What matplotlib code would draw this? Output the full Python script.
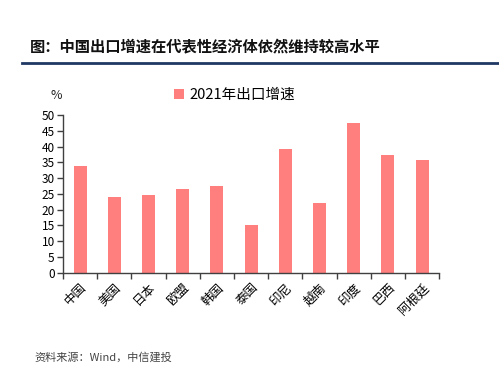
import matplotlib
matplotlib.use("Agg")
import matplotlib.pyplot as plt
from matplotlib.lines import Line2D

plt.rcParams['font.family'] = ['Noto Sans CJK SC', 'DejaVu Sans']

categories = ["中国", "美国", "日本", "欧盟", "韩国", "泰国", "印尼", "越南", "印度", "巴西", "阿根廷"]
values = [33.8, 24.0, 24.5, 26.4, 27.6, 15.2, 39.2, 22.0, 47.5, 37.3, 35.6]
series_name = "2021年出口增速"
yticks = list(range(0, 51, 5))

bar_color = "#FF7F7F"
axis_color = "#404040"

fig = plt.figure(figsize=(4.99, 3.78), dpi=100)
ax = fig.add_axes([0.1263, 0.2786, 0.7537, 0.4172])

x = list(range(len(categories)))
bars = ax.bar(x, values, width=0.38, color=bar_color, label=series_name, zorder=2)

ax.set_xlim(-0.5, len(categories) - 0.5)
ax.set_ylim(0, 50)
ax.set_yticks(yticks)
ax.set_yticklabels([str(t) for t in yticks], fontsize=8.5)

ax.set_xticks([i - 0.5 for i in range(len(categories) + 1)])
ax.set_xticklabels([])
ax.set_xticks(x, minor=True)
ax.set_xticklabels(categories, minor=True, rotation=45, ha='right', va='top',
                   rotation_mode='anchor', fontsize=9)
ax.tick_params(axis='x', which='minor', length=0, pad=6)
ax.tick_params(axis='x', which='major', length=4, direction='out', color=axis_color, width=1)
ax.tick_params(axis='y', length=4, direction='out', color=axis_color, width=1, pad=2)

for s in ['top', 'right']:
    ax.spines[s].set_visible(False)
for s in ['left', 'bottom']:
    ax.spines[s].set_color(axis_color)
    ax.spines[s].set_linewidth(1)

# legend
leg = ax.legend(handles=[bars], loc='center left', bbox_to_anchor=(0.322, 0.748),
                bbox_transform=fig.transFigure, frameon=False, fontsize=10.5,
                handlelength=0.7, handleheight=0.7, handletextpad=0.35)

# percent label
fig.text(0.112, 0.748, "%", fontsize=9, ha='center', va='center', color='#222222')

# title
fig.text(0.06, 0.876, "图：中国出口增速在代表性经济体依然维持较高水平", fontsize=11,
         fontweight='bold', ha='left', va='center', color='#111111')
fig.add_artist(Line2D([0.044, 1.0], [1 - 63.3 / 378, 1 - 63.3 / 378],
                      transform=fig.transFigure, color='#1F3864', linewidth=2))

# source
fig.text(0.07, 1 - 357 / 378, "资料来源：Wind，中信建投", fontsize=8, style='italic',
         ha='left', va='center', color='#444444')

fig.savefig("out.png", dpi=100, facecolor='white')
